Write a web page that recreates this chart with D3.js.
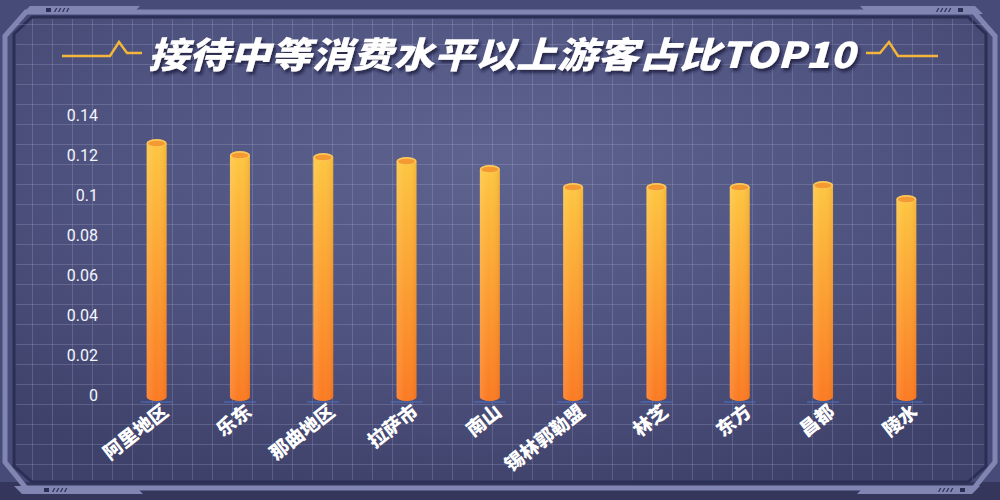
<!DOCTYPE html>
<html>
<head>
<meta charset="utf-8">
<script src="https://cdn.jsdelivr.net/npm/d3@7"></script>
<style>
  html, body { margin: 0; padding: 0; background: #3b3e66; }
  svg { display: block; }
</style>
</head>
<body>
<div id="chart"></div>
<script>
// Data
var regions = ["阿里地区", "乐东", "那曲地区", "拉萨市", "南山", "锡林郭勒盟", "林芝", "东方", "昌都", "陵水"];
var shares = [0.126, 0.12, 0.119, 0.117, 0.113, 0.104, 0.104, 0.104, 0.105, 0.098];
var yTicks = [0, 0.02, 0.04, 0.06, 0.08, 0.1, 0.12, 0.14];
var title = "接待中等消费水平以上游客占比TOP10";

// Sizing
var width = 1000;
var height = 500;
var margin = { top: 115, right: 52, bottom: 105, left: 115 };

var svg = d3.select("#chart").append("svg")
    .attr("width", width)
    .attr("height", height);

var defs = svg.append("defs");

// Panel gradient
var pg = defs.append("radialGradient").attr("id", "panel")
    .attr("cx", "50%").attr("cy", "30%").attr("r", "75%");
pg.append("stop").attr("offset", "0%").attr("stop-color", "#5e6390");
pg.append("stop").attr("offset", "60%").attr("stop-color", "#4d517d");
pg.append("stop").attr("offset", "100%").attr("stop-color", "#3e4169");

// Bar gradient
var bg = defs.append("linearGradient").attr("id", "bar")
    .attr("x1", 0).attr("y1", 0).attr("x2", 0).attr("y2", 1);
bg.append("stop").attr("offset", "0%").attr("stop-color", "#fdc640");
bg.append("stop").attr("offset", "100%").attr("stop-color", "#fb7a22");

// side shading for cylinder look
var sg = defs.append("linearGradient").attr("id", "side")
    .attr("x1", 0).attr("y1", 0).attr("x2", 1).attr("y2", 0);
sg.append("stop").attr("offset", "0%").attr("stop-color", "#fff").attr("stop-opacity", 0.12);
sg.append("stop").attr("offset", "45%").attr("stop-color", "#fff").attr("stop-opacity", 0);
sg.append("stop").attr("offset", "100%").attr("stop-color", "#a03a00").attr("stop-opacity", 0.12);

var shadow = defs.append("filter").attr("id", "shadow")
    .attr("x", "-10%").attr("y", "-30%").attr("width", "120%").attr("height", "160%");
shadow.append("feDropShadow").attr("dx", 2).attr("dy", 3).attr("stdDeviation", 1.5)
    .attr("flood-color", "#1d1f3a").attr("flood-opacity", 0.8);

// Background and frame
svg.append("rect").attr("width", width).attr("height", height).attr("fill", "#474b77");
svg.append("rect").attr("y", 482).attr("width", width).attr("height", 18).attr("fill", "#34365c");

// outer light frame
var outerPts = [[5, 36], [26, 12], [974, 12], [995, 36], [995, 462], [974, 488], [26, 488], [5, 462]];
svg.append("path")
    .attr("d", d3.line()(outerPts) + "Z")
    .attr("fill", "none")
    .attr("stroke", "#8085b1")
    .attr("stroke-width", 5);

var panelPts = [[14, 34], [32, 17], [968, 17], [986, 34], [986, 466], [968, 482], [32, 482], [14, 466]];
svg.append("path")
    .attr("d", d3.line()(panelPts) + "Z")
    .attr("fill", "url(#panel)")
    .attr("stroke", "#2c2f55")
    .attr("stroke-width", 3);

// corner tabs
var tabs = svg.append("g").attr("fill", "#8085b1");
tabs.append("path").attr("d", "M30,6 L140,6 L132,14 L22,14 Z");
tabs.append("path").attr("d", "M860,6 L975,6 L983,14 L868,14 Z");
tabs.append("path").attr("d", "M14,486 L135,486 L143,494 L22,494 Z");
tabs.append("path").attr("d", "M865,486 L980,486 L972,494 L857,494 Z");
var marks = svg.append("g").attr("fill", "#2c2f55");
[[46, 8], [860 + 98, 8], [44, 488], [868 + 92, 488]].forEach(function (p) {
    marks.append("rect").attr("x", p[0]).attr("y", p[1]).attr("width", 5).attr("height", 4);
});
[[54, 8], [58, 8], [62, 8], [66, 8], [936, 8], [940, 8], [944, 8], [948, 8],
 [52, 488], [56, 488], [60, 488], [64, 488], [938, 488], [942, 488], [946, 488], [950, 488]].forEach(function (p) {
    marks.append("path").attr("d", "M" + p[0] + "," + (p[1] + 4) + " l2,-4 l1.3,0 l-2,4 Z");
});

// Grid
var grid = svg.append("g").attr("stroke", "#c9cdf2").attr("stroke-opacity", 0.2).attr("stroke-width", 1);
grid.selectAll("line.v").data(d3.range(32, 986, 20)).enter().append("line")
    .attr("x1", d => d + 0.5).attr("x2", d => d + 0.5).attr("y1", 19).attr("y2", 480);
grid.selectAll("line.h").data(d3.range(24, 480, 20)).enter().append("line")
    .attr("y1", d => d + 0.5).attr("y2", d => d + 0.5).attr("x1", 16).attr("x2", 984);

// Title decorations
var deco = svg.append("g").attr("fill", "none").attr("stroke", "#f3b53c").attr("stroke-width", 2.5);
deco.append("path").attr("d", d3.line()([[62, 56], [110, 56], [119, 42], [127, 53], [142, 53]]));
deco.append("path").attr("d", d3.line()([[866, 53], [880, 53], [889, 42], [898, 56], [938, 56]]));

// Title
svg.append("text")
    .attr("x", 148).attr("y", 68)
    .attr("textLength", 707).attr("lengthAdjust", "spacingAndGlyphs")
    .attr("font-family", "'Noto Sans CJK SC', sans-serif")
    .attr("font-weight", 900)
    .attr("font-style", "italic")
    .attr("font-size", 36)
    .attr("fill", "#ffffff")
    .attr("filter", "url(#shadow)")
    .text(title);

// Scales
var x = d3.scaleBand()
    .domain(regions)
    .range([margin.left, width - margin.right])
    .paddingInner(0.76)
    .paddingOuter(0.38);

var y = d3.scaleLinear()
    .domain([0, 0.14])
    .range([395, 115]);

// Y axis
var yAxis = d3.axisLeft(y).tickValues(yTicks).tickSize(0).tickPadding(0)
    .tickFormat(d => d === 0 ? "0" : String(+d.toFixed(2)));
var yg = svg.append("g").attr("transform", "translate(98,0)").call(yAxis);
yg.select(".domain").remove();
yg.selectAll("text")
    .attr("fill", "#f4f5ff")
    .attr("font-family", "Roboto, 'Noto Sans', sans-serif")
    .attr("font-size", 16)
    .attr("dy", "0.35em");

// Bars (cylinders)
var bw = x.bandwidth();
var ry = 4;
var bars = svg.append("g").selectAll("g.bar").data(regions).enter().append("g");

bars.append("line")
    .attr("x1", d => x(d) - 6).attr("x2", d => x(d) + bw + 6)
    .attr("y1", y(0) + 7).attr("y2", y(0) + 7)
    .attr("stroke", "#4f73c4").attr("stroke-width", 1.2);

function cylinder(d, i) {
    var x0 = x(d), x1 = x(d) + bw, top = y(shares[i]), bot = y(0) + 2;
    return "M" + x0 + "," + top + "L" + x0 + "," + bot +
        "A" + (bw / 2) + "," + ry + " 0 0 0 " + x1 + "," + bot +
        "L" + x1 + "," + top + "Z";
}

bars.append("path").attr("d", cylinder).attr("fill", "url(#bar)");
bars.append("path").attr("d", cylinder).attr("fill", "url(#side)");

bars.append("ellipse")
    .attr("cx", d => x(d) + bw / 2)
    .attr("cy", (d, i) => y(shares[i]))
    .attr("rx", bw / 2).attr("ry", ry)
    .attr("fill", "#fdc85a");

bars.append("ellipse")
    .attr("cx", d => x(d) + bw / 2)
    .attr("cy", (d, i) => y(shares[i]) + 0.5)
    .attr("rx", bw / 2 - 1.5).attr("ry", ry - 1.2)
    .attr("fill", "#f39a33");

// X labels
svg.append("g").selectAll("text").data(regions).enter().append("text")
    .attr("transform", d => "translate(" + (x(d) + bw / 2 + 13) + ",414) rotate(-38)")
    .attr("text-anchor", "end")
    .attr("font-family", "'Noto Sans CJK SC', sans-serif")
    .attr("font-weight", 900)
    .attr("font-size", 19)
    .attr("fill", "#ffffff")
    .text(d => d);
</script>
</body>
</html>
